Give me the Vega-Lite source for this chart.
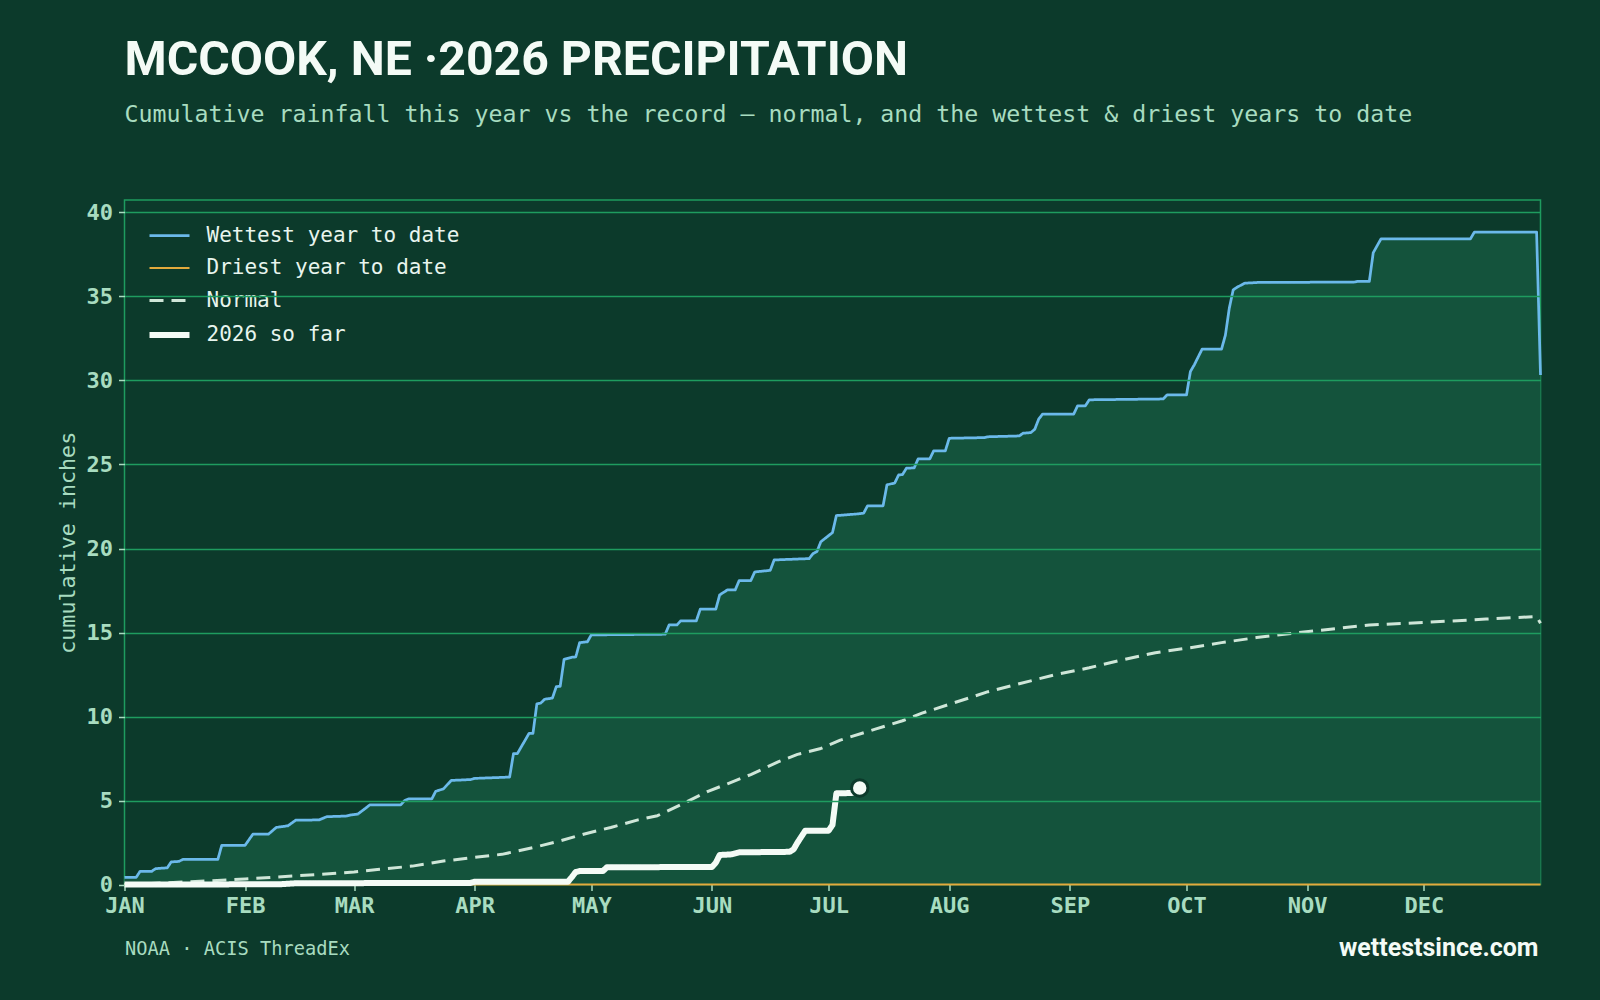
{
  "$schema": "https://vega.github.io/schema/vega-lite/v6.json",
  "width": 1416,
  "height": 684.6,
  "autosize": {"type": "none"},
  "padding": {"left": 124.5, "top": 200, "right": 59.5, "bottom": 115.4},
  "background": "#0c3a2b",
  "config": {
    "view": {"stroke": "#1e9c5f", "strokeWidth": 1.5}
  },
  "title": {
    "text": "MCCOOK, NE ·2026 PRECIPITATION",
    "subtitle": "Cumulative rainfall this year vs the record — normal, and the wettest & driest years to date",
    "anchor": "start",
    "frame": "group",
    "font": "Roboto",
    "fontWeight": 700,
    "fontSize": 48.2,
    "color": "#f4fbf6",
    "subtitleFont": "DejaVu Sans Mono",
    "subtitleFontSize": 23.25,
    "subtitleColor": "#a8dcc0",
    "subtitlePadding": 19,
    "offset": 73
  },
  "data": {
    "values": [
      {"series": "Wettest year to date", "date": "2026/01/01", "in": 0.43},
      {"series": "Wettest year to date", "date": "2026/01/04", "in": 0.43},
      {"series": "Wettest year to date", "date": "2026/01/05", "in": 0.79},
      {"series": "Wettest year to date", "date": "2026/01/08", "in": 0.79},
      {"series": "Wettest year to date", "date": "2026/01/09", "in": 0.95},
      {"series": "Wettest year to date", "date": "2026/01/12", "in": 1.0},
      {"series": "Wettest year to date", "date": "2026/01/13", "in": 1.35},
      {"series": "Wettest year to date", "date": "2026/01/15", "in": 1.38},
      {"series": "Wettest year to date", "date": "2026/01/16", "in": 1.5},
      {"series": "Wettest year to date", "date": "2026/01/25", "in": 1.5},
      {"series": "Wettest year to date", "date": "2026/01/26", "in": 2.34},
      {"series": "Wettest year to date", "date": "2026/02/01", "in": 2.34},
      {"series": "Wettest year to date", "date": "2026/02/03", "in": 3.0},
      {"series": "Wettest year to date", "date": "2026/02/07", "in": 3.0},
      {"series": "Wettest year to date", "date": "2026/02/09", "in": 3.4},
      {"series": "Wettest year to date", "date": "2026/02/12", "in": 3.5},
      {"series": "Wettest year to date", "date": "2026/02/14", "in": 3.83},
      {"series": "Wettest year to date", "date": "2026/02/20", "in": 3.85},
      {"series": "Wettest year to date", "date": "2026/02/22", "in": 4.04},
      {"series": "Wettest year to date", "date": "2026/02/27", "in": 4.08},
      {"series": "Wettest year to date", "date": "2026/02/28", "in": 4.14},
      {"series": "Wettest year to date", "date": "2026/03/02", "in": 4.2},
      {"series": "Wettest year to date", "date": "2026/03/04", "in": 4.55},
      {"series": "Wettest year to date", "date": "2026/03/05", "in": 4.74},
      {"series": "Wettest year to date", "date": "2026/03/13", "in": 4.74},
      {"series": "Wettest year to date", "date": "2026/03/14", "in": 5.0},
      {"series": "Wettest year to date", "date": "2026/03/15", "in": 5.1},
      {"series": "Wettest year to date", "date": "2026/03/21", "in": 5.1},
      {"series": "Wettest year to date", "date": "2026/03/22", "in": 5.55},
      {"series": "Wettest year to date", "date": "2026/03/24", "in": 5.7},
      {"series": "Wettest year to date", "date": "2026/03/26", "in": 6.2},
      {"series": "Wettest year to date", "date": "2026/03/31", "in": 6.25},
      {"series": "Wettest year to date", "date": "2026/04/01", "in": 6.32},
      {"series": "Wettest year to date", "date": "2026/04/08", "in": 6.38},
      {"series": "Wettest year to date", "date": "2026/04/10", "in": 6.4},
      {"series": "Wettest year to date", "date": "2026/04/11", "in": 7.8},
      {"series": "Wettest year to date", "date": "2026/04/12", "in": 7.8},
      {"series": "Wettest year to date", "date": "2026/04/15", "in": 9.0},
      {"series": "Wettest year to date", "date": "2026/04/16", "in": 9.0},
      {"series": "Wettest year to date", "date": "2026/04/17", "in": 10.75},
      {"series": "Wettest year to date", "date": "2026/04/18", "in": 10.8},
      {"series": "Wettest year to date", "date": "2026/04/19", "in": 11.03},
      {"series": "Wettest year to date", "date": "2026/04/21", "in": 11.1},
      {"series": "Wettest year to date", "date": "2026/04/22", "in": 11.78},
      {"series": "Wettest year to date", "date": "2026/04/23", "in": 11.8},
      {"series": "Wettest year to date", "date": "2026/04/24", "in": 13.41},
      {"series": "Wettest year to date", "date": "2026/04/26", "in": 13.53},
      {"series": "Wettest year to date", "date": "2026/04/27", "in": 13.55},
      {"series": "Wettest year to date", "date": "2026/04/28", "in": 14.4},
      {"series": "Wettest year to date", "date": "2026/04/30", "in": 14.45},
      {"series": "Wettest year to date", "date": "2026/05/01", "in": 14.86},
      {"series": "Wettest year to date", "date": "2026/05/20", "in": 14.9},
      {"series": "Wettest year to date", "date": "2026/05/21", "in": 15.45},
      {"series": "Wettest year to date", "date": "2026/05/23", "in": 15.45},
      {"series": "Wettest year to date", "date": "2026/05/24", "in": 15.7},
      {"series": "Wettest year to date", "date": "2026/05/28", "in": 15.7},
      {"series": "Wettest year to date", "date": "2026/05/29", "in": 16.39},
      {"series": "Wettest year to date", "date": "2026/06/02", "in": 16.39},
      {"series": "Wettest year to date", "date": "2026/06/03", "in": 17.24},
      {"series": "Wettest year to date", "date": "2026/06/05", "in": 17.54},
      {"series": "Wettest year to date", "date": "2026/06/07", "in": 17.54},
      {"series": "Wettest year to date", "date": "2026/06/08", "in": 18.09},
      {"series": "Wettest year to date", "date": "2026/06/11", "in": 18.09},
      {"series": "Wettest year to date", "date": "2026/06/12", "in": 18.6},
      {"series": "Wettest year to date", "date": "2026/06/13", "in": 18.63},
      {"series": "Wettest year to date", "date": "2026/06/16", "in": 18.7},
      {"series": "Wettest year to date", "date": "2026/06/17", "in": 19.32},
      {"series": "Wettest year to date", "date": "2026/06/26", "in": 19.4},
      {"series": "Wettest year to date", "date": "2026/06/27", "in": 19.7},
      {"series": "Wettest year to date", "date": "2026/06/28", "in": 19.82},
      {"series": "Wettest year to date", "date": "2026/06/29", "in": 20.4},
      {"series": "Wettest year to date", "date": "2026/07/02", "in": 20.95},
      {"series": "Wettest year to date", "date": "2026/07/03", "in": 21.96},
      {"series": "Wettest year to date", "date": "2026/07/08", "in": 22.05},
      {"series": "Wettest year to date", "date": "2026/07/10", "in": 22.1},
      {"series": "Wettest year to date", "date": "2026/07/11", "in": 22.54},
      {"series": "Wettest year to date", "date": "2026/07/15", "in": 22.54},
      {"series": "Wettest year to date", "date": "2026/07/16", "in": 23.79},
      {"series": "Wettest year to date", "date": "2026/07/18", "in": 23.9},
      {"series": "Wettest year to date", "date": "2026/07/19", "in": 24.38},
      {"series": "Wettest year to date", "date": "2026/07/20", "in": 24.4},
      {"series": "Wettest year to date", "date": "2026/07/21", "in": 24.78},
      {"series": "Wettest year to date", "date": "2026/07/23", "in": 24.8},
      {"series": "Wettest year to date", "date": "2026/07/24", "in": 25.33},
      {"series": "Wettest year to date", "date": "2026/07/27", "in": 25.33},
      {"series": "Wettest year to date", "date": "2026/07/28", "in": 25.81},
      {"series": "Wettest year to date", "date": "2026/07/31", "in": 25.81},
      {"series": "Wettest year to date", "date": "2026/08/01", "in": 26.56},
      {"series": "Wettest year to date", "date": "2026/08/10", "in": 26.6},
      {"series": "Wettest year to date", "date": "2026/08/11", "in": 26.65},
      {"series": "Wettest year to date", "date": "2026/08/19", "in": 26.7},
      {"series": "Wettest year to date", "date": "2026/08/20", "in": 26.86},
      {"series": "Wettest year to date", "date": "2026/08/22", "in": 26.9},
      {"series": "Wettest year to date", "date": "2026/08/23", "in": 27.1},
      {"series": "Wettest year to date", "date": "2026/08/24", "in": 27.7},
      {"series": "Wettest year to date", "date": "2026/08/25", "in": 28.0},
      {"series": "Wettest year to date", "date": "2026/09/02", "in": 28.0},
      {"series": "Wettest year to date", "date": "2026/09/03", "in": 28.49},
      {"series": "Wettest year to date", "date": "2026/09/05", "in": 28.49},
      {"series": "Wettest year to date", "date": "2026/09/06", "in": 28.85},
      {"series": "Wettest year to date", "date": "2026/09/25", "in": 28.9},
      {"series": "Wettest year to date", "date": "2026/09/26", "in": 29.14},
      {"series": "Wettest year to date", "date": "2026/10/01", "in": 29.14},
      {"series": "Wettest year to date", "date": "2026/10/02", "in": 30.53},
      {"series": "Wettest year to date", "date": "2026/10/03", "in": 30.93},
      {"series": "Wettest year to date", "date": "2026/10/05", "in": 31.86},
      {"series": "Wettest year to date", "date": "2026/10/10", "in": 31.86},
      {"series": "Wettest year to date", "date": "2026/10/11", "in": 32.7},
      {"series": "Wettest year to date", "date": "2026/10/12", "in": 34.3},
      {"series": "Wettest year to date", "date": "2026/10/13", "in": 35.39},
      {"series": "Wettest year to date", "date": "2026/10/14", "in": 35.55},
      {"series": "Wettest year to date", "date": "2026/10/16", "in": 35.79},
      {"series": "Wettest year to date", "date": "2026/10/20", "in": 35.84},
      {"series": "Wettest year to date", "date": "2026/11/13", "in": 35.85},
      {"series": "Wettest year to date", "date": "2026/11/14", "in": 35.9},
      {"series": "Wettest year to date", "date": "2026/11/17", "in": 35.9},
      {"series": "Wettest year to date", "date": "2026/11/18", "in": 37.6},
      {"series": "Wettest year to date", "date": "2026/11/20", "in": 38.43},
      {"series": "Wettest year to date", "date": "2026/12/13", "in": 38.43},
      {"series": "Wettest year to date", "date": "2026/12/14", "in": 38.83},
      {"series": "Wettest year to date", "date": "2026/12/30", "in": 38.83},
      {"series": "Wettest year to date", "date": "2026/12/31", "in": 30.33},
      {"series": "Driest year to date", "date": "2026/01/01", "in": 0},
      {"series": "Driest year to date", "date": "2026/12/31", "in": 0},
      {"series": "Normal", "date": "2026/01/01", "in": 0.0},
      {"series": "Normal", "date": "2026/01/11", "in": 0.1},
      {"series": "Normal", "date": "2026/01/18", "in": 0.17},
      {"series": "Normal", "date": "2026/02/01", "in": 0.33},
      {"series": "Normal", "date": "2026/02/09", "in": 0.45},
      {"series": "Normal", "date": "2026/02/20", "in": 0.6},
      {"series": "Normal", "date": "2026/03/01", "in": 0.75},
      {"series": "Normal", "date": "2026/03/07", "in": 0.9},
      {"series": "Normal", "date": "2026/03/16", "in": 1.1},
      {"series": "Normal", "date": "2026/03/24", "in": 1.4},
      {"series": "Normal", "date": "2026/04/01", "in": 1.62},
      {"series": "Normal", "date": "2026/04/08", "in": 1.8},
      {"series": "Normal", "date": "2026/04/16", "in": 2.2},
      {"series": "Normal", "date": "2026/04/23", "in": 2.6},
      {"series": "Normal", "date": "2026/04/29", "in": 3.0},
      {"series": "Normal", "date": "2026/05/06", "in": 3.4},
      {"series": "Normal", "date": "2026/05/13", "in": 3.85},
      {"series": "Normal", "date": "2026/05/18", "in": 4.1},
      {"series": "Normal", "date": "2026/05/24", "in": 4.75},
      {"series": "Normal", "date": "2026/05/31", "in": 5.55},
      {"series": "Normal", "date": "2026/06/05", "in": 6.0},
      {"series": "Normal", "date": "2026/06/11", "in": 6.55},
      {"series": "Normal", "date": "2026/06/18", "in": 7.3},
      {"series": "Normal", "date": "2026/06/23", "in": 7.75},
      {"series": "Normal", "date": "2026/06/29", "in": 8.1},
      {"series": "Normal", "date": "2026/07/04", "in": 8.6},
      {"series": "Normal", "date": "2026/07/13", "in": 9.25},
      {"series": "Normal", "date": "2026/07/20", "in": 9.75},
      {"series": "Normal", "date": "2026/07/25", "in": 10.2},
      {"series": "Normal", "date": "2026/08/02", "in": 10.8},
      {"series": "Normal", "date": "2026/08/11", "in": 11.48},
      {"series": "Normal", "date": "2026/08/19", "in": 11.95},
      {"series": "Normal", "date": "2026/08/28", "in": 12.48},
      {"series": "Normal", "date": "2026/09/06", "in": 12.9},
      {"series": "Normal", "date": "2026/09/14", "in": 13.35},
      {"series": "Normal", "date": "2026/09/23", "in": 13.8},
      {"series": "Normal", "date": "2026/10/02", "in": 14.1},
      {"series": "Normal", "date": "2026/10/10", "in": 14.4},
      {"series": "Normal", "date": "2026/10/19", "in": 14.7},
      {"series": "Normal", "date": "2026/10/28", "in": 14.95},
      {"series": "Normal", "date": "2026/11/07", "in": 15.2},
      {"series": "Normal", "date": "2026/11/17", "in": 15.45},
      {"series": "Normal", "date": "2026/12/01", "in": 15.6},
      {"series": "Normal", "date": "2026/12/17", "in": 15.8},
      {"series": "Normal", "date": "2026/12/30", "in": 15.95},
      {"series": "Normal", "date": "2026/12/31", "in": 15.55},
      {"series": "2026 so far", "date": "2026/01/01", "in": 0},
      {"series": "2026 so far", "date": "2026/02/10", "in": 0.02},
      {"series": "2026 so far", "date": "2026/02/14", "in": 0.08},
      {"series": "2026 so far", "date": "2026/03/31", "in": 0.1},
      {"series": "2026 so far", "date": "2026/04/01", "in": 0.17},
      {"series": "2026 so far", "date": "2026/04/25", "in": 0.17},
      {"series": "2026 so far", "date": "2026/04/26", "in": 0.45},
      {"series": "2026 so far", "date": "2026/04/27", "in": 0.75},
      {"series": "2026 so far", "date": "2026/04/28", "in": 0.81},
      {"series": "2026 so far", "date": "2026/05/04", "in": 0.81},
      {"series": "2026 so far", "date": "2026/05/05", "in": 1.03},
      {"series": "2026 so far", "date": "2026/06/01", "in": 1.05},
      {"series": "2026 so far", "date": "2026/06/02", "in": 1.3},
      {"series": "2026 so far", "date": "2026/06/03", "in": 1.76},
      {"series": "2026 so far", "date": "2026/06/06", "in": 1.8},
      {"series": "2026 so far", "date": "2026/06/08", "in": 1.92},
      {"series": "2026 so far", "date": "2026/06/21", "in": 1.95},
      {"series": "2026 so far", "date": "2026/06/22", "in": 2.1},
      {"series": "2026 so far", "date": "2026/06/23", "in": 2.5},
      {"series": "2026 so far", "date": "2026/06/25", "in": 3.21},
      {"series": "2026 so far", "date": "2026/07/01", "in": 3.21},
      {"series": "2026 so far", "date": "2026/07/02", "in": 3.55},
      {"series": "2026 so far", "date": "2026/07/03", "in": 5.43},
      {"series": "2026 so far", "date": "2026/07/07", "in": 5.45},
      {"series": "2026 so far", "date": "2026/07/08", "in": 5.6},
      {"series": "2026 so far", "date": "2026/07/09", "in": 5.75}
    ]
  },
  "layer": [
    {
      "transform": [{"filter": "datum.series === 'Wettest year to date'"}],
      "mark": {"type": "area", "color": "#14533c", "interpolate": "linear"},
      "encoding": {
        "x": {"field": "date", "type": "temporal"},
        "y": {"field": "in", "type": "quantitative"}
      }
    },
    {
      "mark": {"type": "line", "interpolate": "linear", "strokeJoin": "round"},
      "encoding": {
        "x": {
          "field": "date",
          "type": "temporal",
          "scale": {"domain": [{"year": 2026, "month": 1, "date": 1}, {"year": 2026, "month": 12, "date": 31}]},
          "axis": {
            "tickCount": {"interval": "month", "step": 1},
            "labelExpr": "upper(timeFormat(datum.value, '%b'))",
            "labelFlush": false,
            "labelOverlap": false,
            "grid": false,
            "domain": false,
            "ticks": true,
            "tickColor": "#a8dcc0",
            "tickSize": 6,
            "tickWidth": 1.5,
            "labelFont": "DejaVu Sans Mono",
            "labelFontWeight": "bold",
            "labelFontSize": 22,
            "labelColor": "#a8dcc0",
            "labelPadding": 5,
            "title": "NOAA · ACIS ThreadEx",
            "titleFont": "DejaVu Sans Mono",
            "titleFontWeight": "normal",
            "titleFontSize": 18.7,
            "titleColor": "#a8dcc0",
            "titleAnchor": "start",
            "titleAlign": "left",
            "titleX": 0,
            "titleY": 63.4,
            "titleBaseline": "middle"
          }
        },
        "y": {
          "field": "in",
          "type": "quantitative",
          "scale": {"domain": [0, 40.74], "nice": false},
          "axis": {
            "values": [0, 5, 10, 15, 20, 25, 30, 35, 40],
            "zindex": 1,
            "grid": true,
            "gridColor": "#1e9c5f",
            "gridWidth": 1.5,
            "gridOpacity": {"condition": {"test": "datum.value === 0", "value": 0}, "value": 1},
            "domain": false,
            "tickColor": "#a8dcc0",
            "tickSize": 6,
            "tickWidth": 1.5,
            "labelFont": "DejaVu Sans Mono",
            "labelFontWeight": "bold",
            "labelFontSize": 22,
            "labelColor": "#a8dcc0",
            "labelPadding": 6,
            "title": "cumulative inches",
            "titleFont": "DejaVu Sans Mono",
            "titleFontWeight": "normal",
            "titleFontSize": 21.7,
            "titleColor": "#a8dcc0",
            "titleX": -57.5,
            "titleBaseline": "middle"
          }
        },
        "color": {
          "field": "series",
          "type": "nominal",
          "scale": {
            "domain": ["Wettest year to date", "Driest year to date", "Normal", "2026 so far"],
            "range": ["#6bb9ea", "#e3aa3c", "#cfe6d8", "#f4fbf6"]
          },
          "legend": {
            "orient": "none",
            "legendX": 22,
            "legendY": 14,
            "title": null,
            "symbolType": "stroke",
            "symbolSize": 1600,
            "labelFont": "DejaVu Sans Mono",
            "labelFontSize": 21,
            "labelColor": "#e8f5ee",
            "labelOffset": 14,
            "labelLimit": 0,
            "rowPadding": 1
          }
        },
        "strokeDash": {
          "field": "series",
          "type": "nominal",
          "scale": {
            "domain": ["Wettest year to date", "Driest year to date", "Normal", "2026 so far"],
            "range": [[1, 0], [1, 0], [14, 8], [1, 0]]
          },
          "legend": {
            "orient": "none",
            "legendX": 22,
            "legendY": 14,
            "title": null,
            "symbolType": "stroke",
            "symbolSize": 1600,
            "labelFont": "DejaVu Sans Mono",
            "labelFontSize": 21,
            "labelColor": "#e8f5ee",
            "labelOffset": 14,
            "labelLimit": 0,
            "rowPadding": 1
          }
        },
        "strokeWidth": {
          "field": "series",
          "type": "nominal",
          "scale": {
            "type": "ordinal",
            "domain": ["Wettest year to date", "Driest year to date", "Normal", "2026 so far"],
            "range": [2.75, 2, 3, 6]
          },
          "legend": {
            "orient": "none",
            "legendX": 22,
            "legendY": 14,
            "title": null,
            "symbolType": "stroke",
            "symbolSize": 1600,
            "labelFont": "DejaVu Sans Mono",
            "labelFontSize": 21,
            "labelColor": "#e8f5ee",
            "labelOffset": 14,
            "labelLimit": 0,
            "rowPadding": 1
          }
        }
      }
    },
    {
      "transform": [{"filter": "datum.series === '2026 so far' && datum.in >= 5.75"}],
      "mark": {"type": "point", "filled": true, "fill": "#f4fbf6", "stroke": "#0c3a2b", "strokeWidth": 3, "size": 270, "opacity": 1},
      "encoding": {
        "x": {"field": "date", "type": "temporal"},
        "y": {"field": "in", "type": "quantitative"}
      }
    },
    {
      "data": {"values": [{"credit": "wettestsince.com"}]},
      "mark": {"type": "text", "align": "right", "baseline": "middle", "font": "Roboto", "fontWeight": 700, "fontSize": 25, "color": "#f4fbf6", "dx": -2, "clip": false},
      "encoding": {
        "x": {"datum": {"year": 2026, "month": 12, "date": 31}, "type": "temporal"},
        "y": {"datum": -3.77, "type": "quantitative"},
        "text": {"field": "credit", "type": "nominal"}
      }
    }
  ]
}
